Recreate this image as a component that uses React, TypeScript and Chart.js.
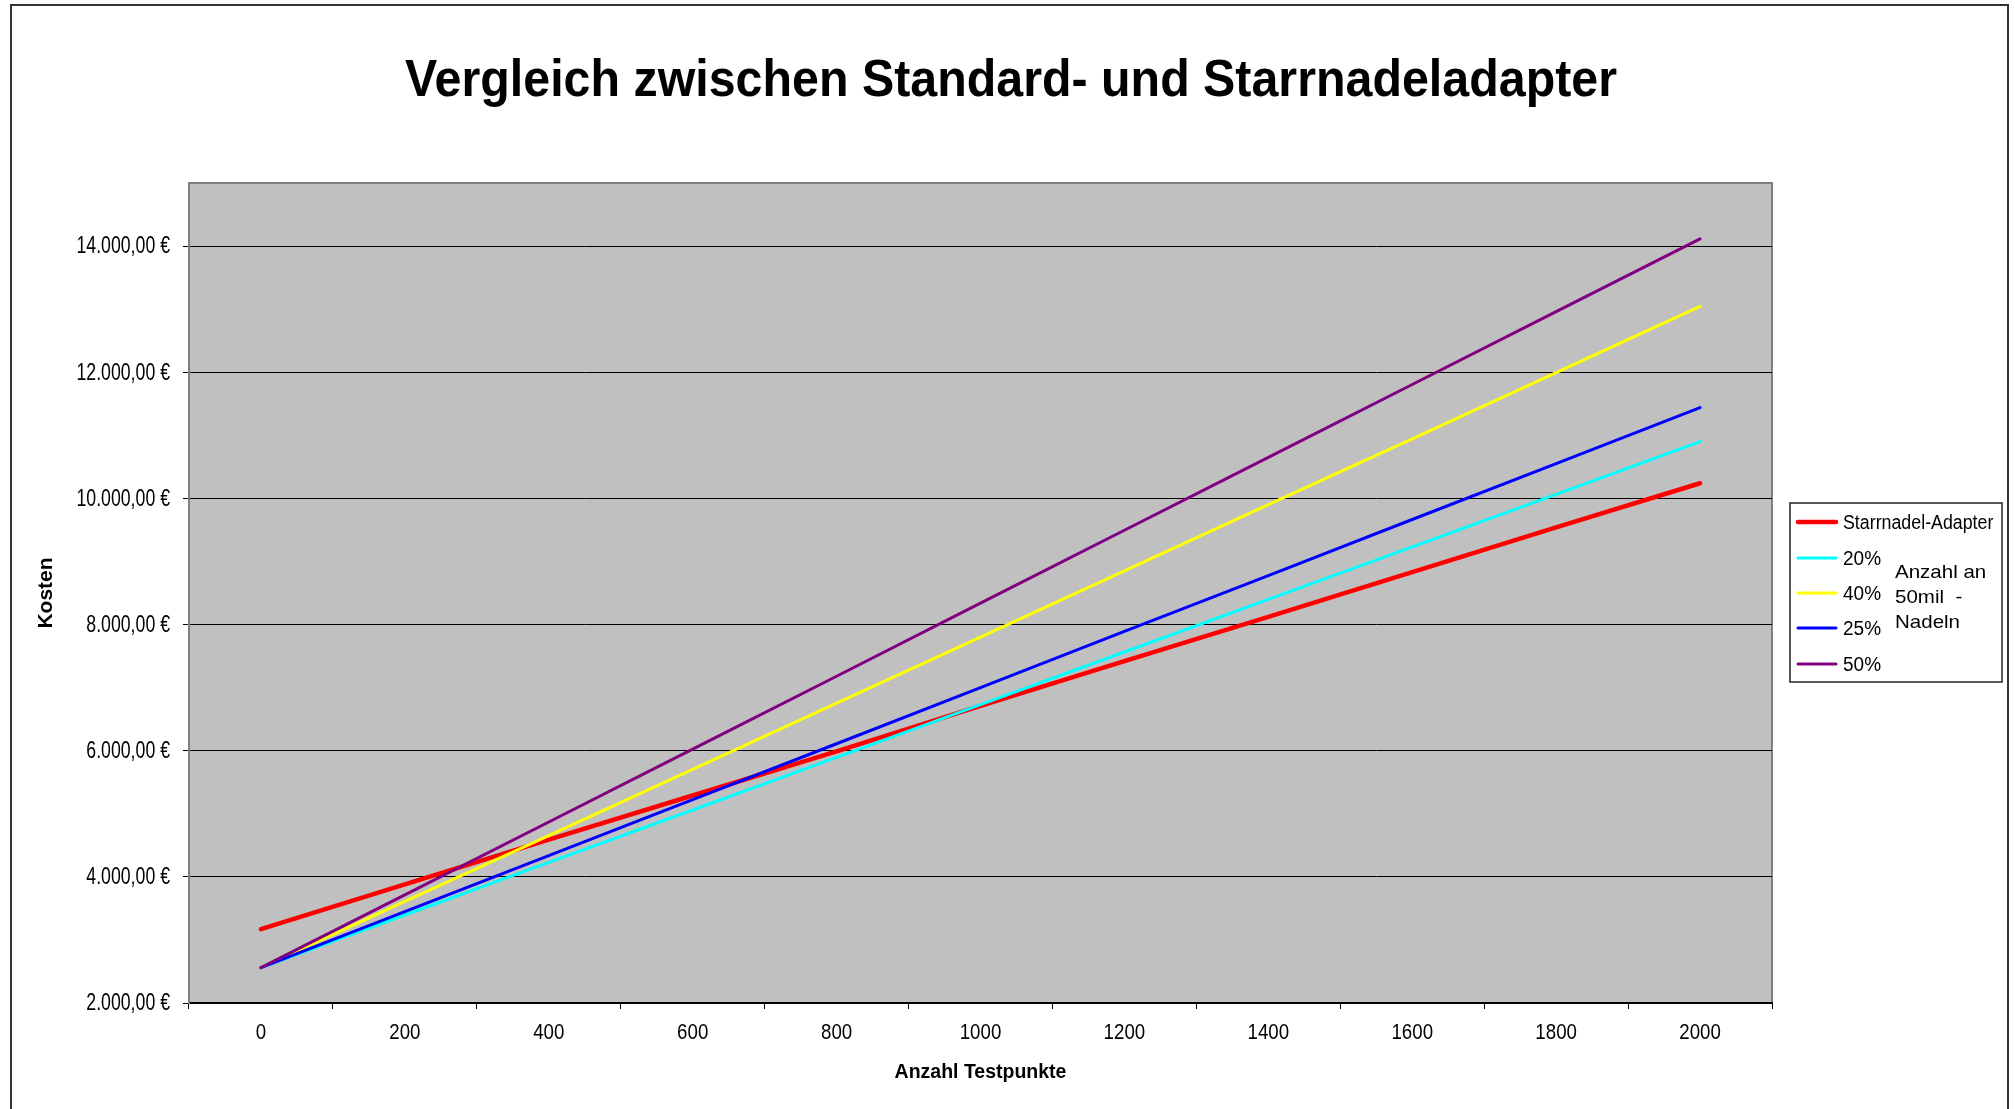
import React, { useEffect, useRef } from 'react';
import { Chart, registerables } from 'chart.js';

Chart.register(...registerables);

// ---------- data ----------
const categories = ['0', '200', '400', '600', '800', '1000', '1200', '1400', '1600', '1800', '2000'];
const starrnadel = [3170, 3880, 4590, 5290, 5990, 6710, 7420, 8120, 8830, 9540, 10240];
const pct20 = [2560, 3395, 4230, 5060, 5895, 6730, 7565, 8400, 9230, 10065, 10900];
const pct40 = [2560, 3610, 4655, 5705, 6755, 7800, 8850, 9900, 10945, 11995, 13045];
const pct25 = [2560, 3450, 4335, 5225, 6110, 7000, 7890, 8775, 9665, 10550, 11440];
const pct50 = [2560, 3715, 4870, 6025, 7180, 8340, 9495, 10650, 11805, 12960, 14115];
const seriesLabels = ['Starrnadel-Adapter', '20%', '40%', '25%', '50%'];
const seriesColors = ['#FF0000', '#00FFFF', '#FFFF00', '#0000FF', '#800080'];
const yMin = 2000;
const yMax = 15000;
const yTickValues = [2000, 4000, 6000, 8000, 10000, 12000, 14000];
const titleText = 'Vergleich zwischen Standard- und Starrnadeladapter';
const xTitle = 'Anzahl Testpunkte';
const yTitle = 'Kosten';
const legendNote = ['Anzahl an', '50mil  -', 'Nadeln'];

// ---------- style ----------
const W = 2015;
const H = 1109;
const SANS = "'Liberation Sans', Arial, sans-serif";

function fmtEuro(v: number) {
  const s = Math.round(v).toString().replace(/\B(?=(\d{3})+(?!\d))/g, '.');
  return s + ',00 €';
}

function scaledText(ctx: any, text: string, x: number, y: number, align: string, sx: number) {
  ctx.save();
  ctx.translate(x, y);
  ctx.scale(sx, 1);
  ctx.textAlign = align;
  ctx.fillText(text, 0, 0);
  ctx.restore();
}

const decorPlugin = {
  id: 'decor',
  beforeDraw(chart: any) {
    const { ctx, chartArea: a } = chart;
    ctx.save();
    ctx.fillStyle = '#C0C0C0';
    ctx.fillRect(a.left, a.top, a.right - a.left, a.bottom - a.top);
    ctx.strokeStyle = '#808080';
    ctx.lineWidth = 2;
    ctx.beginPath();
    ctx.moveTo(a.left, a.top);
    ctx.lineTo(a.right, a.top);
    ctx.lineTo(a.right, a.bottom);
    ctx.stroke();
    ctx.restore();
  },
  afterDraw(chart: any) {
    const { ctx } = chart;
    ctx.save();
    // outer frame
    ctx.strokeStyle = '#333333';
    ctx.lineWidth = 2;
    ctx.strokeRect(11, 5, 1997, H + 20);

    // title (condensed rendering as in the reference)
    ctx.fillStyle = '#000';
    ctx.font = `bold 52px ${SANS}`;
    ctx.textBaseline = 'alphabetic';
    const tw = ctx.measureText(titleText).width;
    scaledText(ctx, titleText, 1011, 96, 'center', 1212 / tw);

    // tick labels (narrow rendering as in the reference)
    ctx.textBaseline = 'middle';
    const xs = chart.scales.x;
    ctx.font = `22px ${SANS}`;
    xs.ticks.forEach((t: any, i: number) => {
      scaledText(ctx, String(xs.getLabelForValue(t.value)), xs.getPixelForTick(i), 1033, 'center', 0.85);
    });
    const ys = chart.scales.y;
    ctx.font = `23px ${SANS}`;
    ys.ticks.forEach((t: any) => {
      scaledText(ctx, fmtEuro(t.value), 170, ys.getPixelForValue(t.value) + 1, 'right', 0.77);
    });

    // legend box
    const bx = 1790, by = 503, bw = 212, bh = 179;
    ctx.fillStyle = '#FFFFFF';
    ctx.fillRect(bx, by, bw, bh);
    ctx.strokeStyle = '#222222';
    ctx.lineWidth = 1.5;
    ctx.strokeRect(bx, by, bw, bh);
    const ds = chart.data.datasets;
    const rowY = [522, 558, 593, 628, 664];
    ctx.textAlign = 'left';
    ctx.textBaseline = 'middle';
    ds.forEach((d: any, i: number) => {
      ctx.strokeStyle = d.borderColor;
      ctx.lineWidth = i === 0 ? 4.5 : 3;
      ctx.lineCap = 'round';
      ctx.beginPath();
      ctx.moveTo(1798, rowY[i]);
      ctx.lineTo(1836, rowY[i]);
      ctx.stroke();
      ctx.fillStyle = '#000';
      ctx.font = `20px ${SANS}`;
      scaledText(ctx, d.label, 1843, rowY[i] + 1, 'left', i === 0 ? 0.89 : 0.95);
    });
    ctx.font = `19px ${SANS}`;
    legendNote.forEach((t, i) => {
      scaledText(ctx, t, 1895, 573 + i * 25, 'left', 1.08);
    });
    ctx.restore();
  },
};

export default function App() {
  const ref = useRef<HTMLCanvasElement | null>(null);
  useEffect(() => {
    if (!ref.current) return;
    const all = [starrnadel, pct20, pct40, pct25, pct50];
    const chart = new Chart(ref.current, {
      type: 'line',
      data: {
        labels: categories,
        datasets: all.map((vals, i) => ({
          label: seriesLabels[i],
          data: vals,
          borderColor: seriesColors[i],
          backgroundColor: seriesColors[i],
          borderWidth: i === 0 ? 4.5 : 3,
          borderCapStyle: 'round',
          borderJoinStyle: 'round',
          pointRadius: 0,
          pointHoverRadius: 0,
          tension: 0,
          fill: false,
          order: 5 - i,
        })),
      },
      options: {
        animation: false,
        responsive: false,
        events: [],
        layout: { padding: { top: 183, right: 243, left: 0, bottom: 0 } },
        plugins: {
          legend: { display: false },
          title: { display: false },
          tooltip: { enabled: false },
        },
        scales: {
          x: {
            type: 'category',
            offset: true,
            grid: {
              offset: true,
              drawOnChartArea: false,
              drawTicks: true,
              tickLength: 6,
              tickColor: '#000',
              tickWidth: 1,
            },
            border: { display: true, color: '#000', width: 2 },
            ticks: {
              color: 'rgba(0,0,0,0)',
              font: { family: SANS, size: 20 },
              padding: 10,
              maxRotation: 0,
              autoSkip: false,
            },
            title: {
              display: true,
              text: xTitle,
              color: '#000',
              font: { family: SANS, size: 19.5, weight: 'bold' },
              padding: { top: 0, bottom: 25 },
            },
            afterFit: (s: any) => {
              s.height = 106;
            },
          },
          y: {
            type: 'linear',
            min: yMin,
            max: yMax,
            ticks: {
              color: 'rgba(0,0,0,0)',
              font: { family: SANS, size: 18 },
              padding: 13,
              callback: (v: any) => fmtEuro(Number(v)),
            },
            afterBuildTicks: (s: any) => {
              s.ticks = yTickValues.map((v) => ({ value: v }));
            },
            grid: {
              color: '#000',
              lineWidth: 1,
              tickLength: 6,
              tickColor: '#000',
            },
            border: { display: true, color: '#808080', width: 2 },
            title: {
              display: true,
              text: yTitle,
              color: '#000',
              font: { family: SANS, size: 21, weight: 'bold' },
              padding: { top: 34, bottom: 0 },
            },
            afterFit: (s: any) => {
              s.width = 189;
            },
          },
        },
      } as any,
      plugins: [decorPlugin],
    });
    return () => chart.destroy();
  }, []);
  return (
    <div style={{ position: 'fixed', left: 0, top: 0, width: W, height: H, background: '#fff' }}>
      <canvas ref={ref} width={W} height={H} style={{ width: W, height: H, display: 'block' }} />
    </div>
  );
}
